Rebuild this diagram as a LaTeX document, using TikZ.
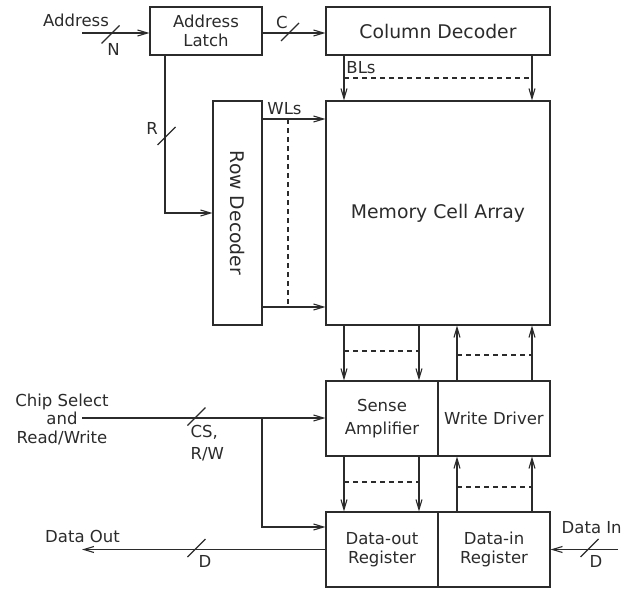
\documentclass[tikz,border=0pt]{standalone}
\usepackage{fontspec}
\setmainfont{DejaVu Sans}
\usetikzlibrary{arrows.meta}
\definecolor{ink}{HTML}{2B2B2B}
\begin{document}
\begin{tikzpicture}[x=1pt,y=-1pt,color=ink,line width=1.1pt,
  box/.style={draw,inner sep=0pt,align=center,font=\fontsize{16.5}{18.5}\selectfont},
  big/.style={font=\fontsize{18.8}{22}\selectfont},
  lbl/.style={inner sep=0pt,font=\fontsize{16.5}{18.5}\selectfont},
  arr/.style={-{Straight Barb[length=10pt,width=6pt,line width=1.1pt]}},
  dsh/.style={dash pattern=on 5pt off 4pt},
  slash/.pic={\draw (-9,9) -- (9,-9);}]
\useasboundingbox (0,0) rectangle (633,589);

% blocks
\node[box,minimum width=112pt,minimum height=48pt] (latch) at (206,31) {Address\\Latch};
\node[box,big,minimum width=224pt,minimum height=48pt] (coldec) at (438,31) {Column Decoder};
\node[box,big,minimum width=224pt,minimum height=224pt] (mca) at (438,213) {Memory Cell Array};
\node[box,big,minimum width=49pt,minimum height=224pt] (rowdec) at (237.5,213) {\rotatebox{-90}{Row Decoder}};
\node[box,minimum width=112pt,minimum height=75pt,font=\fontsize{16.5}{23}\selectfont] (sense) at (382,418.5) {Sense\\Amplifier};
\node[box,minimum width=112pt,minimum height=75pt] (wdrv) at (494,418.5) {Write Driver};
\node[box,minimum width=112pt,minimum height=75pt,font=\fontsize{16.5}{19}\selectfont] (dout) at (382,549.5) {Data-out\\Register};
\node[box,minimum width=112pt,minimum height=75pt,font=\fontsize{16.5}{19}\selectfont] (din) at (494,549.5) {Data-in\\Register};

% labels
\node[lbl] (laddr) at (76,20.5) {Address};
\node[lbl] (lN) at (113.5,49.5) {N};
\node[lbl] (lC) at (282,22) {C};
\node[lbl] (lR) at (152,128.5) {R};
\node[lbl] (lWL) at (284.5,109) {WLs};
\node[lbl] (lBL) at (361,68) {BLs};
\node[lbl,align=center] (lcs) at (62,419) {Chip Select\\and\\Read/Write};
\node[lbl,align=left,anchor=north west,font=\fontsize{16.5}{22}\selectfont] (lcsrw) at (190,425) {CS,\\R/W};
\node[lbl] (ldout) at (82.5,536) {Data Out};
\node[lbl] (lD1) at (205,561) {D};
\node[lbl] (ldin) at (591.7,527.5) {Data In};
\node[lbl] (lD2) at (596,561) {D};

% column positions
\coordinate (c1) at (344,0);
\coordinate (c2) at (419,0);
\coordinate (c3) at (457,0);
\coordinate (c4) at (532,0);

% address in
\coordinate (addrin) at (82,33);
\draw[arr] (addrin) -- (addrin -| latch.west);
\pic at (110.5,34.5) {slash};

% latch to column decoder
\draw[arr] ([yshift=-2pt]latch.east) -- ([yshift=-2pt]coldec.west);
\pic at (290,32) {slash};

% bit lines
\draw[arr] (c1 |- coldec.south) -- (c1 |- mca.north);
\draw[arr] (c4 |- coldec.south) -- (c4 |- mca.north);
\draw[dsh] (344,78) -- (532,78);

% row address
\draw[arr] ([xshift=-41pt]latch.south) |- (rowdec.west);
\pic at (166.5,136) {slash};

% word lines
\draw[arr] ([yshift=94pt]rowdec.east) -- ([yshift=94pt]rowdec.east -| mca.west);
\draw[arr] ([yshift=-94pt]rowdec.east) -- ([yshift=-94pt]rowdec.east -| mca.west);
\draw[dsh] (288,119) -- (288,307);

% memory <-> sense / write
\draw[arr] (c1 |- mca.south) -- (c1 |- sense.north);
\draw[arr] (c2 |- mca.south) -- (c2 |- sense.north);
\draw[dsh] (344,351) -- (419,351);
\draw[arr] (c3 |- wdrv.north) -- (c3 |- mca.south);
\draw[arr] (c4 |- wdrv.north) -- (c4 |- mca.south);
\draw[dsh] (457,355) -- (532,355);

% sense / write <-> registers
\draw[arr] (c1 |- sense.south) -- (c1 |- dout.north);
\draw[arr] (c2 |- sense.south) -- (c2 |- dout.north);
\draw[dsh] (344,482) -- (419,482);
\draw[arr] (c3 |- din.north) -- (c3 |- wdrv.south);
\draw[arr] (c4 |- din.north) -- (c4 |- wdrv.south);
\draw[dsh] (457,487) -- (532,487);

% chip select
\coordinate (csin) at (82,418);
\coordinate (br) at (262,418);
\draw[arr] (csin) -- (csin -| sense.west);
\pic at (196.5,416.5) {slash};
\draw[arr] (br) |- ([yshift=22.5pt]dout.west);

% data out
\coordinate (doutend) at (82,549.5);
\draw[arr] (dout.west) -- (doutend);
\pic at (196.5,548) {slash};

% data in
\coordinate (dinstart) at (618,549.5);
\draw[arr] (dinstart) -- (din.east);
\pic at (589.5,548) {slash};
\end{tikzpicture}
\end{document}
